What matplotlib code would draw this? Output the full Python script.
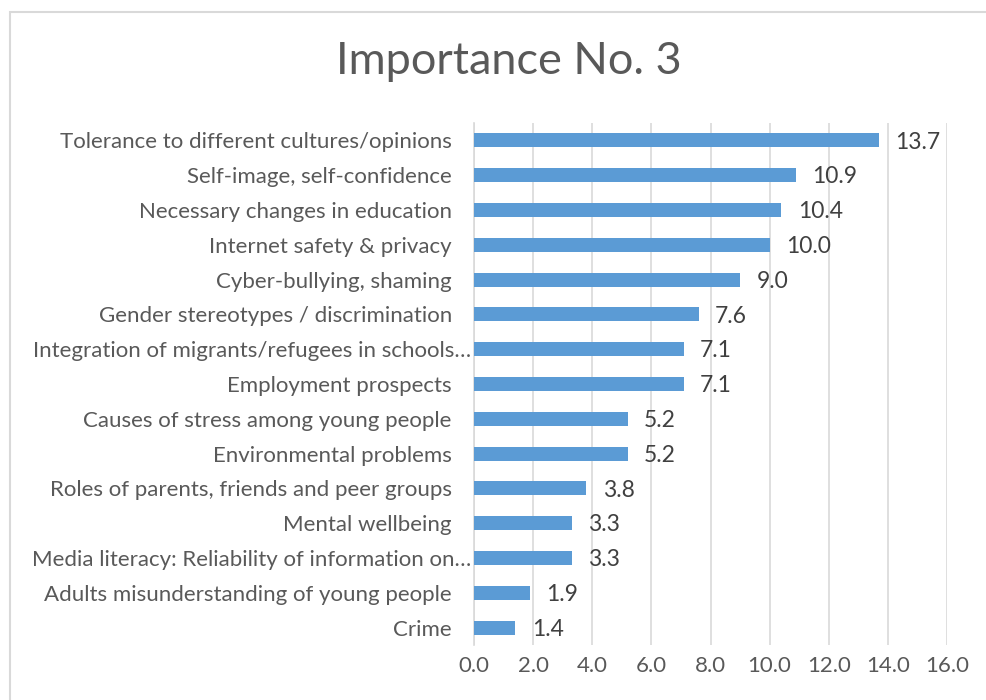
import matplotlib.pyplot as plt
from matplotlib.patches import Rectangle
from matplotlib.transforms import ScaledTranslation

topics = [
    "Tolerance to different cultures/opinions",
    "Self-image, self-confidence",
    "Necessary changes in education",
    "Internet safety & privacy",
    "Cyber-bullying, shaming",
    "Gender stereotypes / discrimination",
    "Integration of migrants/refugees in schools…",
    "Employment prospects",
    "Causes of stress among young people",
    "Environmental problems",
    "Roles of parents, friends and peer groups",
    "Mental wellbeing",
    "Media literacy: Reliability of information on…",
    "Adults misunderstanding of young people",
    "Crime",
]
scores = [13.7, 10.9, 10.4, 10.0, 9.0, 7.6, 7.1, 7.1, 5.2, 5.2, 3.8, 3.3, 3.3, 1.9, 1.4]
xticks = [0, 2, 4, 6, 8, 10, 12, 14, 16]

plt.rcParams['font.family'] = ['Lato', 'DejaVu Sans']

W, H = 987, 700
fig = plt.figure(figsize=(W / 100, H / 100), dpi=100)

# chart frame (runs off the right and bottom edges)
fig.patches.append(Rectangle((10 / W, -0.05), 1.1, 1.05 - 12 / H,
                             transform=fig.transFigure, fill=False,
                             edgecolor='#d9d9d9', linewidth=1.5))

ax = fig.add_axes([474 / W, 1 - 645 / H, (947 - 474) / W, (645 - 123) / H])
y = list(range(len(topics)))
ax.barh(y, scores, height=0.4, color='#5b9bd5', zorder=3)
for yi, v in zip(y, scores):
    ax.text(v + 0.55, yi + 0.05, f"{v:.1f}", va='center', ha='left',
            fontsize=16.5, color='#404040', zorder=4)

ax.set_xlim(0, 16)
ax.set_ylim(len(topics) - 0.5, -0.5)
ax.set_xticks(xticks)
ax.set_xticklabels([f"{t:.1f}" for t in xticks])
ax.set_yticks(y)
ax.set_yticklabels(topics)
ax.tick_params(axis='both', length=0, labelcolor='#595959')
ax.tick_params(axis='x', pad=8, labelsize=16)
ax.tick_params(axis='y', pad=16, labelsize=16)
ax.grid(axis='x', color='#d9d9d9', linewidth=1.2, zorder=0)
for s in ['top', 'right', 'bottom']:
    ax.spines[s].set_visible(False)
ax.spines['left'].set_color('#d9d9d9')
ax.spines['left'].set_linewidth(1.2)

# truncated labels sit closer to the axis
for lbl in ax.get_yticklabels():
    if lbl.get_text().endswith("…"):
        lbl.set_transform(lbl.get_transform() + ScaledTranslation(14 / 72, 0, fig.dpi_scale_trans))

fig.text(509 / W, 1 - 62 / H, "Importance No. 3", ha='center', va='center',
         fontsize=32.5, color='#595959')

fig.savefig('out.png', dpi=100)
